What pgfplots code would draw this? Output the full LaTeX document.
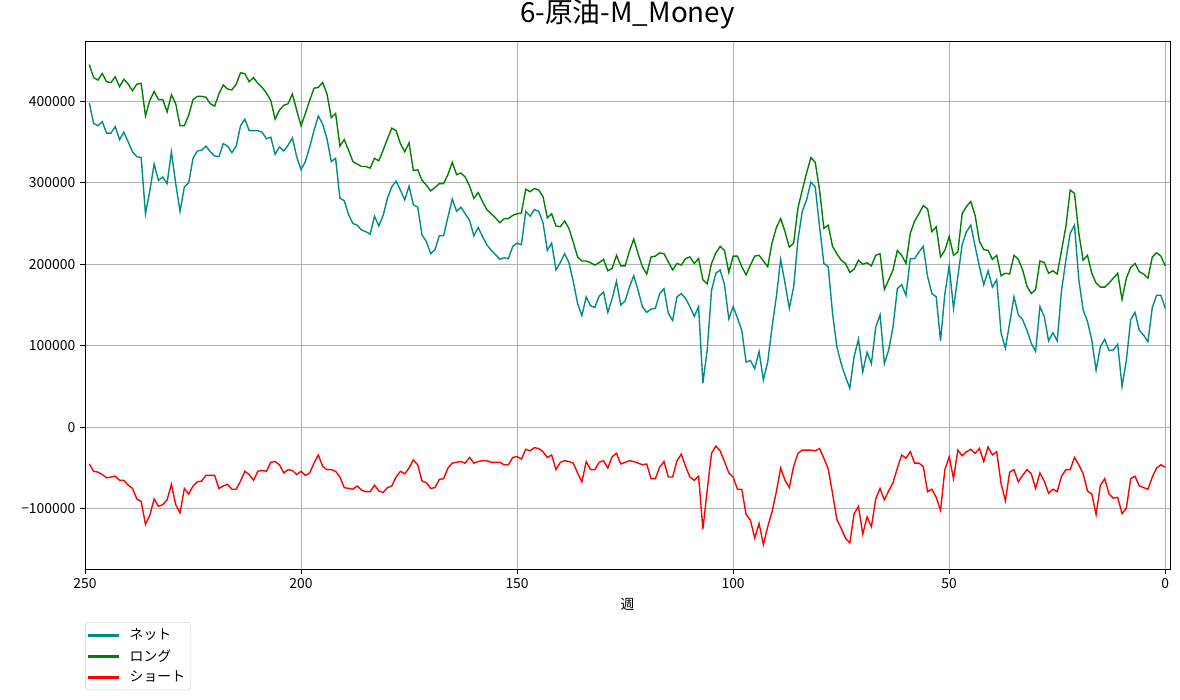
\documentclass[border=0pt]{standalone}
\usepackage{fontspec}
\setmainfont{Noto Sans CJK JP}
\usepackage{pgfplots}
\usepackage{pgfplotstable}
\pgfplotsset{compat=1.18}

\definecolor{netc}{HTML}{008B8B}
\definecolor{longc}{HTML}{008000}
\definecolor{shortc}{HTML}{FF0000}
\definecolor{gridc}{HTML}{B0B0B0}

% values in thousands of contracts, week 249 .. 0
\pgfplotstableread{
week net long short
249 398 445 -45
248 373 429 -54
247 370 426 -55
246 375 434 -58
245 361 424 -62
244 361 423 -61
243 369 430 -60
242 353 418 -65
241 362 427 -65
240 350 421 -71
239 338 413 -75
238 332 421 -88
237 331 422 -91
236 262 382 -119
235 290 401 -108
234 323 412 -88
233 303 402 -97
232 307 402 -95
231 299 387 -89
230 338 408 -70
229 299 397 -95
228 265 370 -105
227 295 370 -75
226 300 383 -82
225 330 402 -72
224 339 406 -67
223 340 406 -66
222 345 405 -59
221 338 397 -59
220 333 394 -59
219 332 409 -75
218 348 420 -72
217 345 415 -70
216 337 414 -76
215 345 421 -76
214 370 435 -66
213 378 434 -54
212 364 424 -58
211 364 429 -65
210 364 422 -54
209 362 417 -53
208 354 410 -54
207 356 401 -43
206 335 378 -42
205 344 389 -46
204 339 395 -56
203 346 397 -52
202 355 409 -53
201 332 389 -58
200 316 370 -54
199 326 385 -59
198 344 401 -56
197 364 416 -44
196 382 417 -34
195 372 423 -48
194 354 409 -52
193 326 380 -52
192 330 385 -54
191 281 345 -61
190 278 353 -74
189 261 340 -75
188 250 326 -76
187 248 323 -72
186 242 320 -77
185 240 320 -79
184 237 318 -79
183 259 330 -71
182 247 327 -78
181 260 340 -80
180 281 354 -74
179 295 367 -72
178 302 364 -61
177 291 348 -54
176 279 338 -57
175 296 349 -50
174 273 315 -40
173 270 316 -46
172 236 303 -66
171 228 297 -68
170 213 290 -75
169 218 294 -74
168 235 299 -64
167 235 299 -63
166 258 310 -50
165 280 325 -44
164 265 310 -43
163 270 312 -42
162 262 307 -44
161 254 296 -37
160 235 281 -44
159 245 288 -42
158 234 277 -41
157 224 267 -41
156 217 262 -43
155 212 257 -43
154 206 251 -43
153 208 256 -46
152 207 256 -46
151 222 260 -37
150 226 262 -36
149 224 263 -39
148 265 292 -27
147 259 289 -29
146 267 293 -25
145 265 291 -26
144 251 283 -30
143 217 257 -37
142 226 262 -34
141 193 247 -52
140 202 246 -43
139 213 253 -41
138 202 244 -42
137 179 227 -44
136 152 209 -56
135 137 204 -67
134 160 204 -42
133 149 202 -52
132 147 199 -52
131 161 202 -43
130 166 206 -41
129 141 192 -50
128 158 195 -36
127 179 211 -32
126 150 198 -45
125 155 198 -43
124 172 216 -41
123 186 231 -42
122 168 213 -44
121 148 197 -46
120 141 188 -45
119 145 209 -63
118 146 210 -63
117 164 214 -49
116 170 213 -42
115 140 203 -61
114 131 193 -61
113 160 201 -41
112 164 199 -33
111 158 207 -48
110 148 209 -61
109 136 201 -65
108 148 207 -60
107 54 181 -125
106 95 176 -77
105 168 201 -32
104 189 214 -23
103 193 222 -29
102 175 217 -42
101 133 190 -56
100 148 210 -61
99 134 210 -76
98 119 197 -76
97 80 187 -107
96 82 199 -114
95 72 210 -136
94 93 211 -118
93 58 204 -144
92 80 197 -122
91 123 226 -104
90 160 245 -79
89 206 256 -50
88 177 240 -65
87 146 221 -74
86 172 226 -48
85 230 269 -32
84 265 291 -28
83 279 312 -28
82 301 331 -28
81 295 325 -29
80 246 291 -26
79 201 244 -38
78 197 248 -51
77 140 222 -81
76 99 213 -113
75 78 205 -124
74 62 201 -136
73 48 190 -142
72 87 194 -106
71 108 205 -97
70 68 200 -131
69 92 202 -110
68 78 198 -122
67 123 211 -88
66 138 213 -75
65 78 169 -89
64 95 181 -78
63 123 193 -68
62 170 217 -50
61 175 211 -34
60 162 201 -38
59 207 238 -30
58 207 253 -44
57 215 262 -44
56 222 272 -48
55 185 268 -79
54 164 240 -76
53 160 246 -86
52 106 209 -102
51 164 217 -52
50 198 234 -36
49 146 211 -63
48 185 215 -28
47 224 262 -35
46 240 271 -30
45 248 277 -27
44 222 260 -32
43 197 228 -26
42 175 218 -42
41 192 217 -24
40 172 206 -34
39 181 211 -30
38 116 186 -69
37 97 189 -90
36 128 188 -55
35 160 211 -52
34 138 206 -67
33 132 193 -59
32 119 173 -52
31 103 164 -57
30 93 169 -75
29 148 204 -56
28 136 202 -66
27 106 189 -81
26 116 192 -76
25 106 188 -79
24 168 217 -60
23 205 246 -52
22 238 291 -52
21 248 287 -37
20 181 238 -46
19 144 205 -57
18 130 211 -78
17 107 189 -82
16 70 177 -107
15 99 172 -71
14 108 172 -63
13 94 177 -82
12 95 183 -87
11 102 189 -86
10 50 157 -106
9 82 183 -99
8 132 196 -63
7 141 201 -60
6 119 191 -72
5 113 188 -74
4 105 183 -76
3 147 209 -61
2 162 214 -50
1 162 210 -46
0 146 198 -49
}\cot

% legend sample drawn as a thin filled bar
\pgfplotsset{
    longline/.style={legend image code/.code={%
        \fill[#1, sharp corners] (0pt,-0.42pt) rectangle (21.6pt,0.42pt);}},
}

\begin{document}
\begin{tikzpicture}
\useasboundingbox (0,0) rectangle (849.6pt,503.3pt);
\begin{axis}[
    at={(61.2pt,93.6pt)}, anchor=south west,
    scale only axis,
    width=781.2pt, height=380.2pt,
    x dir=reverse,
    xmin=-1.1, xmax=250,
    ymin=-173.9, ymax=474,
    xtick={0,50,...,250},
    ytick={-100,0,100,200,300,400},
    yticklabels={−100000,0,100000,200000,300000,400000},
    /pgf/number format/assume math mode=true,
    ticklabel style={font=\fontsize{10}{12}\selectfont},
    tick align=outside,
    major tick length=3.5pt,
    tick style={black, line width=0.58pt},
    xtick pos=bottom, ytick pos=left,
    grid=major,
    major grid style={gridc, line width=0.58pt},
    axis line style={black, line width=0.58pt},
    title={6-原油-M\_Money},
    title style={font=\fontsize{20}{24}\selectfont, yshift=-1pt},
    xlabel={週},
    xlabel style={font=\fontsize{10}{12}\selectfont},
    legend style={
        at={(0.0,-0.1005)}, anchor=north west,
        rounded corners=2pt, draw=gray!35,
        font=\fontsize{10}{12}\selectfont,
        row sep=1.5pt, inner xsep=2pt, inner ysep=2.5pt,
        column sep=6pt,
    },
    legend cell align=left,
]
\addlegendimage{longline, color=netc}
\addlegendentry{ネット}
\addlegendimage{longline, color=longc}
\addlegendentry{ロング}
\addlegendimage{longline, color=shortc}
\addlegendentry{ショート}
\addplot[forget plot, color=netc, line width=1pt] table[x=week, y=net] {\cot};
\addplot[forget plot, color=longc, line width=1pt] table[x=week, y=long] {\cot};
\addplot[forget plot, color=shortc, line width=1pt] table[x=week, y=short] {\cot};
\end{axis}
\end{tikzpicture}
\end{document}
